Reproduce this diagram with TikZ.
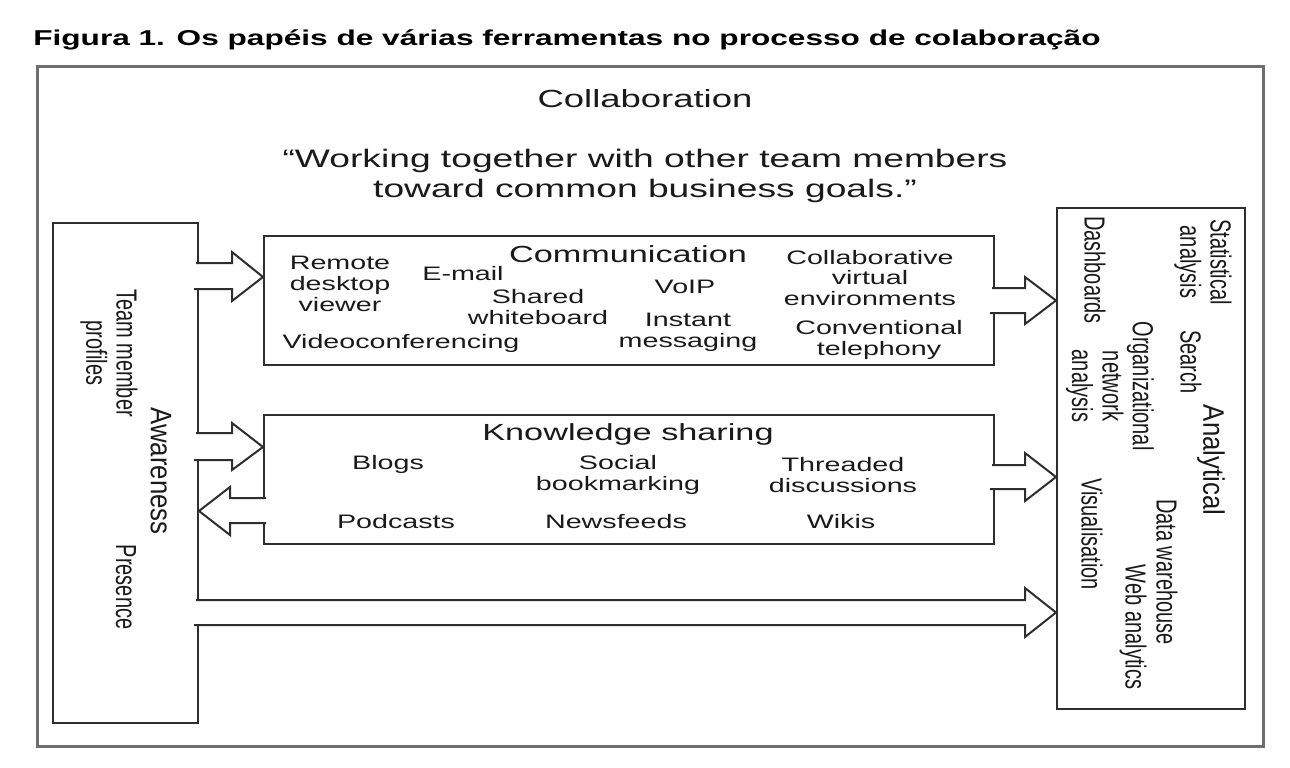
\documentclass[tikz,border=0pt]{standalone}
\usepackage{fontspec}
\setmainfont{Liberation Sans}
\definecolor{linec}{HTML}{2E2E2E}
\definecolor{framec}{HTML}{6E6E6E}
\definecolor{txt}{HTML}{1A1A1A}
\begin{document}
\begin{tikzpicture}[x=1pt,y=-1pt,
  box/.style={draw=linec, line width=2pt, inner sep=0pt, anchor=north west},
  barrow/.style={draw=linec, fill=white, line width=2pt, line join=miter},
  ht/.style={xscale=1.47, inner sep=0pt, align=center, text=txt},
  item/.style={ht, font=\fontsize{19.5}{20.8}\selectfont},
  head/.style={ht, font=\fontsize{23.3}{26}\selectfont},
  vitem/.style={xscale=1.45, rotate=-90, inner sep=0pt, align=center, text=txt, font=\fontsize{20}{21}\selectfont},
  vhead/.style={xscale=1.15, rotate=-90, inner sep=0pt, align=center, text=txt, font=\fontsize{25.8}{28}\selectfont},
]
\useasboundingbox[fill=white] (0,0) rectangle (1290,768);

% title
\node[ht, anchor=west, font=\bfseries\fontsize{21.5}{24}\selectfont, text=black] (title) at (33,40)
  {Figura 1. Os papéis de várias ferramentas no processo de colaboração};

% outer frame
\node[draw=framec, line width=3pt, inner sep=0pt, anchor=north west,
      minimum width=1226pt, minimum height=680pt] (frame) at (36,65) {};

% boxes
\node[box, minimum width=145pt, minimum height=500pt] (aw) at (52,222) {};
\node[box, minimum width=730pt, minimum height=129pt] (comm) at (263,235) {};
\node[box, minimum width=730pt, minimum height=129pt] (know) at (263,414) {};
\node[box, minimum width=188pt, minimum height=501pt] (anal) at (1056,207) {};

% block arrows: awareness -> communication
\draw[barrow] ([shift={(-3pt,-41pt)}]aw.north east) -- (232,263) -- (232,252)
  -- ([yshift=-42pt]comm.north west) -- (232,301) -- (232,289) -- (194,289);
% awareness -> knowledge sharing
\draw[barrow] ([shift={(-3pt,-211pt)}]aw.north east) -- (232,433) -- (232,423)
  -- ([yshift=-33pt]know.north west) -- (232,470) -- (232,460) -- (194,460);
% knowledge sharing -> awareness
\draw[barrow] ([shift={(3pt,-84pt)}]know.north west) -- (230,498) -- (230,487)
  -- ([yshift=-289pt]aw.north east) -- (230,535) -- (230,523) -- (266,523);
% communication -> analytical
\draw[barrow] ([shift={(-3pt,-53pt)}]comm.north east) -- (1025,288) -- (1025,277)
  -- ([yshift=-93.5pt]anal.north west) -- (1025,324) -- (1025,313) -- (990,313);
% knowledge sharing -> analytical
\draw[barrow] ([shift={(-3pt,-51pt)}]know.north east) -- (1025,465) -- (1025,453)
  -- ([yshift=-270pt]anal.north west) -- (1025,501) -- (1025,489) -- (990,489);
% awareness -> analytical
\draw[barrow] ([shift={(-3pt,-378pt)}]aw.north east) -- (1025,600) -- (1025,588)
  -- ([yshift=-405.5pt]anal.north west) -- (1025,637) -- (1025,625) -- (194,625);

% top texts
\node[ht, font=\fontsize{24.8}{28}\selectfont] (collab) at (645,99) {Collaboration};
\node[ht, font=\fontsize{25.3}{30}\selectfont] (quote) at (645,176)
  {“Working together with other team members\\toward common business goals.”};

% communication
\node[head] (commt) at (628,254) {Communication};
\node[item] (rdv) at (340,284) {Remote\\desktop\\viewer};
\node[item] (email) at (463,274) {E-mail};
\node[item] (sw) at (538,307) {Shared\\whiteboard};
\node[item] (vc) at (401,343) {Videoconferencing};
\node[item] (voip) at (685,287) {VoIP};
\node[item] (im) at (688,332) {Instant\\messaging};
\node[item] (cve) at (870,278) {Collaborative\\virtual\\environments};
\node[item] (ct) at (879,340) {Conventional\\telephony};

% knowledge sharing
\node[head] (knowt) at (628,434) {Knowledge sharing};
\node[item] (blogs) at (388,464) {Blogs};
\node[item] (sb) at (618,475) {Social\\bookmarking};
\node[item] (td) at (843,475) {Threaded\\discussions};
\node[item] (pod) at (396,522) {Podcasts};
\node[item] (news) at (616,522) {Newsfeeds};
\node[item] (wikis) at (841,522) {Wikis};

% awareness
\node[vitem] (tmp) at (109,353) {Team member\\profiles};
\node[vhead] (awt) at (161,471) {Awareness};
\node[vitem] (pres) at (126,587) {Presence};

% analytical
\node[vitem] (stat) at (1203,262) {Statistical\\analysis};
\node[vitem] (dash) at (1095,270) {Dashboards};
\node[vitem] (search) at (1191,362) {Search};
\node[vitem] (ona) at (1110,386) {Organizational\\network\\analysis};
\node[vhead] (analt) at (1211,460) {Analytical};
\node[vitem] (dw) at (1167,572) {Data warehouse};
\node[vitem] (wa) at (1133,627) {Web analytics};
\node[vitem] (vis) at (1092,534) {Visualisation};
\end{tikzpicture}
\end{document}
